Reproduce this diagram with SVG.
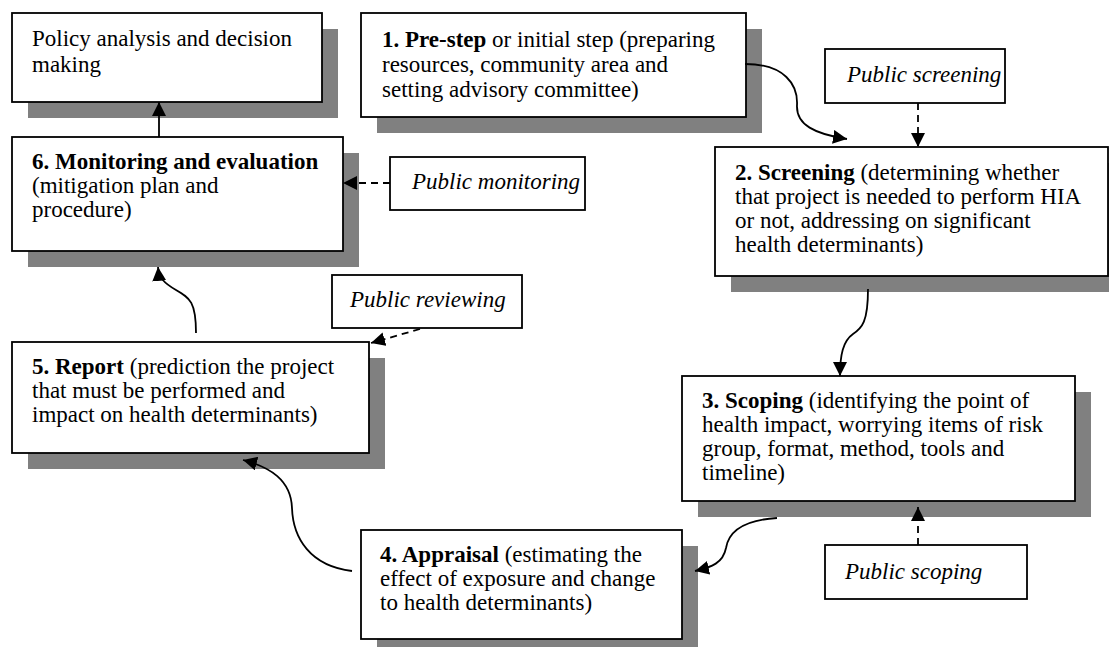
<svg xmlns="http://www.w3.org/2000/svg" width="1109" height="647" viewBox="0 0 1109 647">
  <style>
    .shadow { fill: #808080; }
    .box { fill: #ffffff; stroke: #000000; stroke-width: 1.8; }
    text { font-family: 'Liberation Serif', 'DejaVu Serif', serif; font-size: 23px; fill: #000000; }
    .pub { font-style: italic; }
    .b { font-weight: bold; }
    .flow { fill: none; stroke: #000000; stroke-width: 1.8; }
    .dash { fill: none; stroke: #000000; stroke-width: 1.8; stroke-dasharray: 7 5; }
  </style>
  <defs>
    <marker id="arrow" markerUnits="userSpaceOnUse" markerWidth="15" markerHeight="14" refX="14" refY="7" orient="auto">
      <path d="M0,0 L14,7 L0,14 z" fill="#000000"/>
    </marker>
  </defs>
  <rect width="1109" height="647" fill="#ffffff"/>

  <!-- Policy analysis -->
  <g id="policy" font-family="Liberation Serif, serif">
    <rect class="shadow" x="28" y="29" width="310" height="89"/>
    <rect class="box" x="12" y="13" width="310" height="89"/>
    <text x="32" y="46">Policy analysis and decision</text>
    <text x="32" y="72">making</text>
  </g>

  <!-- Step 1 -->
  <g id="prestep" font-family="Liberation Serif, serif">
    <rect class="shadow" x="377" y="29" width="385" height="104"/>
    <rect class="box" x="361" y="13" width="385" height="104"/>
    <text x="382" y="47"><tspan class="b">1. Pre-step</tspan> or initial step (preparing</text>
    <text x="382" y="72">resources, community area and</text>
    <text x="382" y="97">setting advisory committee)</text>
  </g>

  <!-- Public screening -->
  <g id="public-screening" font-family="Liberation Serif, serif">
    <rect class="box" x="825" y="49" width="180" height="54"/>
    <text class="pub" x="847" y="82">Public screening</text>
  </g>

  <!-- Step 2 -->
  <g id="screening" font-family="Liberation Serif, serif">
    <rect class="shadow" x="731" y="163" width="393" height="129"/>
    <rect class="box" x="715" y="147" width="393" height="129"/>
    <text x="735" y="180"><tspan class="b">2. Screening</tspan> (determining whether</text>
    <text x="735" y="204">that project is needed to perform HIA</text>
    <text x="735" y="228">or not, addressing on significant</text>
    <text x="735" y="252">health determinants)</text>
  </g>

  <!-- Step 6 -->
  <g id="monitoring" font-family="Liberation Serif, serif">
    <rect class="shadow" x="28" y="153" width="331" height="114"/>
    <rect class="box" x="12" y="137" width="331" height="114"/>
    <text x="32" y="169"><tspan class="b">6. Monitoring and evaluation</tspan></text>
    <text x="32" y="193">(mitigation plan and</text>
    <text x="32" y="217">procedure)</text>
  </g>

  <!-- Public monitoring -->
  <g id="public-monitoring" font-family="Liberation Serif, serif">
    <rect class="box" x="390" y="157" width="195" height="53"/>
    <text class="pub" x="412" y="189">Public monitoring</text>
  </g>

  <!-- Public reviewing -->
  <g id="public-reviewing" font-family="Liberation Serif, serif">
    <rect class="box" x="332" y="275" width="190" height="53"/>
    <text class="pub" x="350" y="307">Public reviewing</text>
  </g>

  <!-- Step 5 -->
  <g id="report" font-family="Liberation Serif, serif">
    <rect class="shadow" x="28" y="358" width="357" height="111"/>
    <rect class="box" x="12" y="342" width="357" height="111"/>
    <text x="32" y="374"><tspan class="b">5. Report</tspan> (prediction the project</text>
    <text x="32" y="398">that must be performed and</text>
    <text x="32" y="422">impact on health determinants)</text>
  </g>

  <!-- Step 3 -->
  <g id="scoping" font-family="Liberation Serif, serif">
    <rect class="shadow" x="698" y="392" width="393" height="125"/>
    <rect class="box" x="682" y="376" width="393" height="125"/>
    <text x="702" y="408"><tspan class="b">3. Scoping</tspan> (identifying the point of</text>
    <text x="702" y="432">health impact, worrying items of risk</text>
    <text x="702" y="456">group, format, method, tools and</text>
    <text x="702" y="480">timeline)</text>
  </g>

  <!-- Public scoping -->
  <g id="public-scoping" font-family="Liberation Serif, serif">
    <rect class="box" x="825" y="545" width="202" height="54"/>
    <text class="pub" x="845" y="579">Public scoping</text>
  </g>

  <!-- Step 4 -->
  <g id="appraisal" font-family="Liberation Serif, serif">
    <rect class="shadow" x="377" y="546" width="321" height="109"/>
    <rect class="box" x="361" y="530" width="321" height="109"/>
    <text x="380" y="562"><tspan class="b">4. Appraisal</tspan> (estimating the</text>
    <text x="380" y="586">effect of exposure and change</text>
    <text x="380" y="610">to health determinants)</text>
  </g>

  <!-- Connectors -->
  <g id="connectors">
    <path class="flow" d="M159,137 L159,102" marker-end="url(#arrow)"/>
    <path class="flow" d="M745,64 C785,64 798,85 797,105 C796,125 815,134 847,139" marker-end="url(#arrow)"/>
    <path class="dash" d="M918,103 L918,147" marker-end="url(#arrow)"/>
    <path class="flow" d="M868,289 C868,322 862,328 853,334 C843,341 840,355 840,376" marker-end="url(#arrow)"/>
    <path class="dash" d="M918,545 L918,507" marker-end="url(#arrow)"/>
    <path class="flow" d="M777,518 C745,520 729,530 726,548 C723,563 712,567 695,571" marker-end="url(#arrow)"/>
    <path class="flow" d="M352,571 C310,566 293,538 292,508 C291,480 270,467 243,460" marker-end="url(#arrow)"/>
    <path class="flow" d="M196,333 C196,302 190,298 176,290 C164,283 159,278 158,267" marker-end="url(#arrow)"/>
    <path class="dash" d="M420,329 L371,343" marker-end="url(#arrow)"/>
    <path class="dash" d="M390,183 L343,183" marker-end="url(#arrow)"/>
  </g>
</svg>
